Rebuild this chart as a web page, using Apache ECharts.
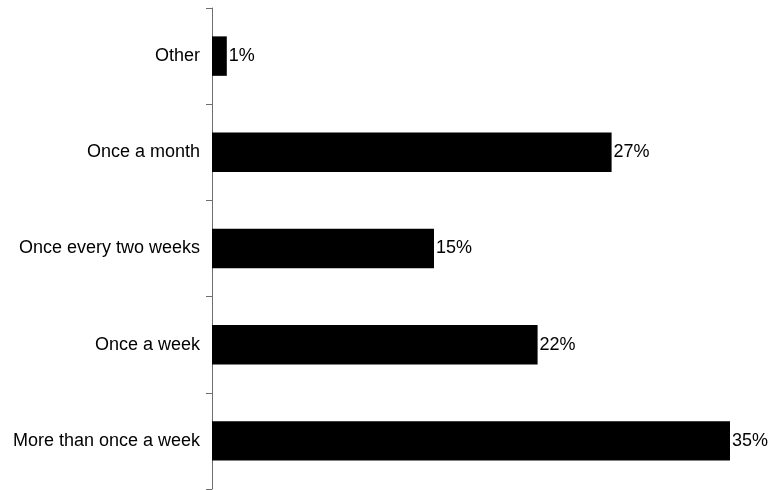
<!DOCTYPE html>
<html>
<head>
<meta charset="utf-8">
<script src="https://cdn.jsdelivr.net/npm/echarts@6/dist/echarts.min.js"></script>
<style>
  html, body { margin: 0; padding: 0; background: #fff; }
  #chart { width: 774px; height: 490px; }
</style>
</head>
<body>
<div id="chart"></div>
<script>
// Frequency categories, top to bottom
const categories = ['Other', 'Once a month', 'Once every two weeks', 'Once a week', 'More than once a week'];
// Share of respondents (%)
const shares = [1, 27, 15, 22, 35];

const chart = echarts.init(document.getElementById('chart'));
chart.setOption({
  animation: false,
  backgroundColor: '#ffffff',
  grid: { left: 212, right: 44, top: 8, bottom: 1, containLabel: false },
  xAxis: {
    type: 'value',
    min: 0,
    max: 35,
    show: false
  },
  yAxis: {
    type: 'category',
    data: categories,
    inverse: true,
    axisLine: { show: true, lineStyle: { color: '#6e6e6e', width: 1 } },
    axisTick: { show: true, length: 6, lineStyle: { color: '#6e6e6e' } },
    axisLabel: {
      margin: 12,
      color: '#000',
      fontFamily: 'Liberation Sans, Arial, sans-serif',
      fontSize: 18
    },
    splitLine: { show: false }
  },
  series: [{
    type: 'bar',
    data: shares,
    barCategoryGap: '59%',
    itemStyle: { color: '#000000' },
    label: {
      show: true,
      position: 'right',
      distance: 2,
      formatter: p => p.value + '%',
      color: '#000',
      fontFamily: 'Liberation Sans, Arial, sans-serif',
      fontSize: 18
    }
  }]
});
</script>
</body>
</html>
